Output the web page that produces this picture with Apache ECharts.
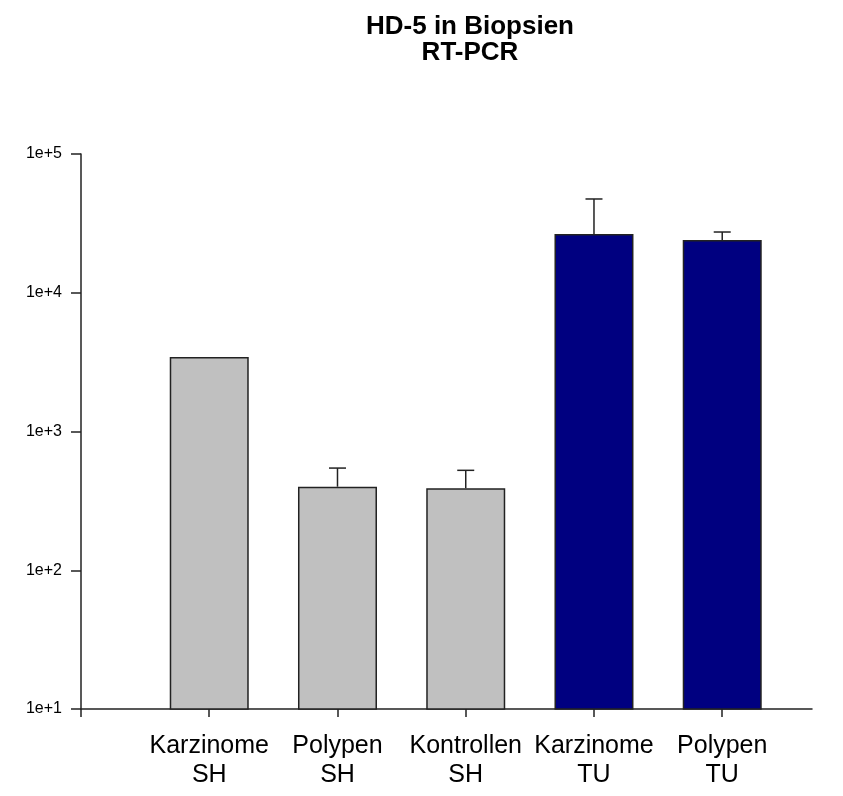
<!DOCTYPE html>
<html>
<head>
<meta charset="utf-8">
<script src="https://cdn.jsdelivr.net/npm/echarts@6/dist/echarts.min.js"></script>
<style>
  html, body { margin: 0; padding: 0; background: #fff; }
  #chart { width: 843px; height: 796px; }
</style>
</head>
<body>
<div id="chart"></div>
<script>
// ---- data ----
var categories = ['Karzinome\nSH', 'Polypen\nSH', 'Kontrollen\nSH', 'Karzinome\nTU', 'Polypen\nTU'];
var groups = ['SH', 'SH', 'SH', 'TU', 'TU'];
var means = [3440, 400, 390, 26500, 24000];
var upper = [null, 545, 525, 47400, 27400];
var yTicks = [10, 100, 1000, 10000, 100000];

// ---- build ----
var positions = categories.map(function (c, i) { return i + 1; });
var barData = categories.map(function (c, i) { return [positions[i], means[i]]; });
var errData = categories.map(function (c, i) { return [positions[i], means[i], upper[i]]; })
  .filter(function (d) { return d[2] != null; });

var chart = echarts.init(document.getElementById('chart'), null, { renderer: 'canvas' });
var FONT = 'Liberation Sans, Arial, sans-serif';

var option = {
  backgroundColor: '#ffffff',
  animation: false,
  title: {
    text: 'HD-5 in Biopsien\nRT-PCR',
    left: 465,
    top: 9,
    textAlign: 'center',
    textStyle: { fontFamily: FONT, fontSize: 26, fontWeight: 'bold', color: '#000', lineHeight: 26 }
  },
  grid: { left: 81, right: 31, top: 154, bottom: 87 },
  xAxis: {
    type: 'value',
    min: 0,
    max: 5.7,
    interval: 1,
    splitLine: { show: false },
    axisLine: { show: true, lineStyle: { color: '#222', width: 1.5 } },
    axisTick: { show: true, length: 8, lineStyle: { color: '#222', width: 1.5 }, customValues: [0, 1, 2, 3, 4, 5] },
    axisLabel: {
      customValues: positions,
      formatter: function (v) { var i = Math.round(v) - 1; return categories[i] || ''; },
      fontFamily: FONT, fontSize: 25, lineHeight: 29, color: '#000', margin: 23
    }
  },
  yAxis: {
    type: 'log',
    logBase: 10,
    min: yTicks[0],
    max: yTicks[yTicks.length - 1],
    splitLine: { show: false },
    axisLine: { show: true, lineStyle: { color: '#222', width: 1.5 } },
    axisTick: { show: true, length: 10, lineStyle: { color: '#222', width: 1.5 } },
    axisLabel: {
      formatter: function (v) { return '1e+' + Math.round(Math.log10(v)); },
      fontFamily: FONT, fontSize: 16, color: '#000', margin: 19
    }
  },
  series: [
    {
      type: 'bar',
      data: barData,
      barWidth: 79,
      itemStyle: {
        color: function (p) { return groups[p.dataIndex] === 'TU' ? '#000080' : '#c0c0c0'; },
        borderColor: '#222',
        borderWidth: 1.5
      },
      z: 2
    },
    {
      type: 'custom',
      data: errData,
      z: 3,
      renderItem: function (params, api) {
        var x = api.value(0);
        var top = api.coord([x, api.value(2)]);
        var base = api.coord([x, api.value(1)]);
        var half = 8.5;
        return {
          type: 'group',
          children: [
            { type: 'line', shape: { x1: top[0], y1: top[1], x2: base[0], y2: base[1] }, style: { stroke: '#222', lineWidth: 1.5 } },
            { type: 'line', shape: { x1: top[0] - half, y1: top[1], x2: top[0] + half, y2: top[1] }, style: { stroke: '#222', lineWidth: 1.5 } }
          ]
        };
      }
    }
  ]
};
chart.setOption(option);
</script>
</body>
</html>
